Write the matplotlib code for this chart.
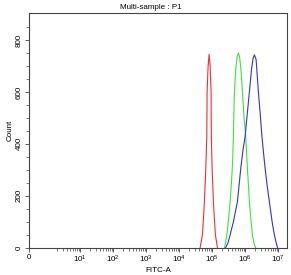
import numpy as np
import matplotlib
matplotlib.use("Agg")
import matplotlib.pyplot as plt
from matplotlib.ticker import FixedLocator, FixedFormatter

plt.rcParams['font.family'] = ['Liberation Sans', 'DejaVu Sans']
plt.rcParams['mathtext.fontset'] = 'custom'
plt.rcParams['mathtext.rm'] = 'Liberation Sans'

# ---- data ----
red_x = [43290, 50830, 54510, 58450, 64440, 69090, 70550, 75660, 81130, 86990,
         93270, 94580, 100000, 109500, 117400, 125900, 144800]
red_y = [0, 49, 110, 177, 307, 434, 600, 700, 745, 700, 600, 434, 307, 177, 110, 49, 0]

green_x = [239300, 279000, 316200, 351200, 389800, 418000, 442200, 474200, 515400,
           572200, 626600, 681300, 756600, 828500, 932700, 1035600, 1174000,
           1350000, 1499000, 1664000, 1874000, 2081000]
green_y = [0, 49, 110, 177, 260, 330, 434, 600, 680, 735, 750, 735, 680, 600, 500,
           434, 307, 177, 110, 49, 15, 0]

blue_x = [256600, 305400, 351200, 442200, 584500, 740800, 869900, 1000000, 1150000,
          1350000, 1574000, 1747000, 1913000, 2154000, 2529000, 2848000, 3207000,
          3585000, 4037000, 4642000, 5451000, 6579000, 7727000, 8699000, 9657000]
blue_y = [0, 20, 49, 100, 177, 307, 380, 427, 510, 600, 690, 730, 743, 725, 600,
          520, 434, 370, 307, 240, 176, 100, 49, 20, 0]

x_major = [0, 1e1, 1e2, 1e3, 1e4, 1e5, 1e6, 1e7]
x_labels = ['0', r'$\mathregular{10^1}$', r'$\mathregular{10^2}$', r'$\mathregular{10^3}$',
            r'$\mathregular{10^4}$', r'$\mathregular{10^5}$', r'$\mathregular{10^6}$',
            r'$\mathregular{10^7}$']
y_major = [0, 200, 400, 600, 800]

title = 'Multi-sample : P1'
xlabel = 'FITC-A'
ylabel = 'Count'

# ---- axis transform: linear near zero, log above 1 ----
L = 0.54


def fwd(x):
    x = np.asarray(x, dtype=float)
    return np.where(x >= 1, np.log10(np.maximum(x, 1)), (x - 1) * L)


def inv(y):
    y = np.asarray(y, dtype=float)
    return np.where(y >= 0, 10 ** np.clip(y, -50, 50), y / L + 1)


fig = plt.figure(figsize=(2.91, 2.75), dpi=100)
ax = fig.add_axes([0.1007, 0.0993, 0.8856, 0.8523])
ax.set_xscale('function', functions=(fwd, inv))

ax.plot(red_x, red_y, color='#f03030', lw=0.8)
ax.plot(green_x, green_y, color='#40e040', lw=0.8)
ax.plot(blue_x, blue_y, color='#3333d0', lw=0.8)

ax.set_xlim(0, 10 ** 7.27)
ax.set_ylim(0, 903)

minor = [m * 10 ** k for k in range(0, 7) for m in range(2, 10)]
ax.xaxis.set_major_locator(FixedLocator(x_major))
ax.xaxis.set_major_formatter(FixedFormatter(x_labels))
ax.xaxis.set_minor_locator(FixedLocator(minor))
ax.yaxis.set_major_locator(FixedLocator(y_major))
ax.yaxis.set_minor_locator(FixedLocator(list(range(50, 900, 50))))

ax.tick_params(axis='both', which='major', length=3, width=0.6, color='#444444',
               labelsize=5.8, pad=1.5)
ax.tick_params(axis='both', which='minor', length=2, width=0.5, color='#444444')
for lab in ax.get_yticklabels():
    lab.set_rotation(90)
    lab.set_va('center')

for s in ax.spines.values():
    s.set_color('#444444')
    s.set_linewidth(0.8)

ax.set_title(title, fontsize=5.8, x=0.472, pad=3)
ax.set_xlabel(xlabel, fontsize=5.8, labelpad=1)
ax.set_ylabel(ylabel, fontsize=5.8, labelpad=2)

fig.savefig('out.png', dpi=100)
